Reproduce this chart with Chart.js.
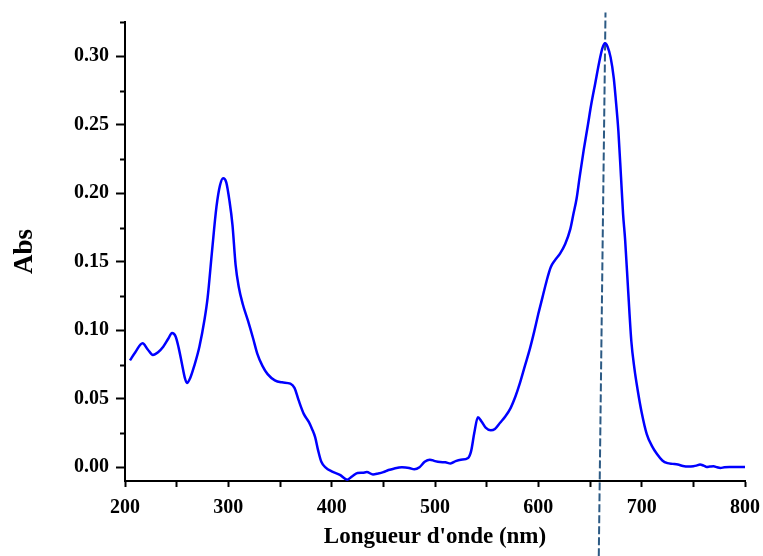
<!DOCTYPE html>
<html>
<head>
<meta charset="utf-8">
<script src="https://cdn.jsdelivr.net/npm/chart.js@4.4.1/dist/chart.umd.min.js"></script>
<style>
  html, body { margin: 0; padding: 0; background: #fff; }
  #wrap { width: 763px; height: 556px; }
</style>
</head>
<body>
<div id="wrap"><canvas id="myChart" width="763" height="556"></canvas></div>
<script>
// Spectrum data
var wavelength = [204.8, 210, 217, 222, 227, 232, 237, 242, 245.5, 249, 252, 255, 258, 260, 263, 267, 272, 277, 280, 284,
  288.5, 292, 295, 298, 301, 304, 307, 310, 314, 319, 324, 328, 333, 338, 345, 352, 360, 364, 368, 373,
  378, 381, 384, 387, 390, 394, 400, 408, 415, 420, 425, 430, 434, 440, 445, 450, 455, 460, 468, 475,
  480, 485, 490, 495, 500, 505, 510, 515, 520, 525, 532, 535, 538, 541.5, 545, 549, 554, 558, 563, 568,
  573, 578, 582, 587, 592, 596, 600, 604, 608, 612, 616, 621, 626, 631, 634, 637, 640, 644, 648, 651,
  655, 659, 662, 664.5, 667, 670, 673, 675, 677.5, 680, 682, 684, 687, 690, 693, 696, 700, 705, 710, 715,
  720, 725, 730, 735, 740, 745, 750, 753, 756.5, 760, 763, 766, 769.5, 773, 776, 780, 785, 790, 795, 800];
var absorbance = [0.078, 0.084, 0.0905, 0.086, 0.082, 0.084, 0.088, 0.094, 0.098, 0.0955, 0.087, 0.076, 0.065, 0.0615, 0.065, 0.074, 0.088, 0.108, 0.124, 0.156,
  0.19, 0.206, 0.211, 0.208, 0.195, 0.177, 0.148, 0.132, 0.119, 0.107, 0.094, 0.083, 0.074, 0.068, 0.0635, 0.062, 0.061, 0.058, 0.049, 0.039,
  0.033, 0.028, 0.022, 0.012, 0.004, 0.0, -0.003, -0.0055, -0.009, -0.0065, -0.0042, -0.004, -0.0035, -0.0052, -0.0045, -0.0035, -0.002, -0.001, 0.0, -0.0005,
  -0.0015, 0.0, 0.004, 0.0056, 0.0045, 0.0038, 0.0036, 0.0028, 0.0045, 0.0055, 0.0068, 0.012, 0.025, 0.0365, 0.0335, 0.029, 0.027, 0.028, 0.0325, 0.037,
  0.043, 0.052, 0.061, 0.074, 0.087, 0.099, 0.112, 0.124, 0.136, 0.146, 0.151, 0.156, 0.163, 0.174, 0.185, 0.196, 0.212, 0.232, 0.25, 0.264,
  0.28, 0.296, 0.306, 0.3095, 0.307, 0.299, 0.284, 0.268, 0.245, 0.212, 0.185, 0.166, 0.128, 0.092, 0.072, 0.057, 0.040, 0.024, 0.0155, 0.0095,
  0.005, 0.003, 0.0025, 0.002, 0.001, 0.0006, 0.0008, 0.0012, 0.002, 0.0012, 0.0003, 0.0005, 0.0007, 0.0, -0.0005, 0.0, 0.0003, 0.0003, 0.0003, 0.0003];

// Dashed marker line at the band maximum (slightly slanted in the picture)
var markerX = [658.5, 665];
var markerY = [-0.065, 0.332];

// Axis settings
var xRange = [200, 800];
var yRange = [-0.01, 0.325];
var xStep = 50, yStep = 0.025;
var xLabelStep = 100, yLabelStep = 0.05;

var serif = "'Liberation Serif', 'Times New Roman', serif";

function isMultiple(v, step) {
  var r = v / step;
  return Math.abs(r - Math.round(r)) < 1e-6;
}

var spectrum = [];
for (var i = 0; i < wavelength.length; i++) {
  spectrum.push({ x: wavelength[i], y: absorbance[i] });
}
var marker = [];
for (var j = 0; j < markerX.length; j++) {
  marker.push({ x: markerX[j], y: markerY[j] });
}

//Draw short minor ticks on the y axis
var minorTicks = {
  id: 'minorTicks',
  afterDraw: function (chart) {
    var ctx = chart.ctx;
    var y = chart.scales.y;
    ctx.save();
    ctx.strokeStyle = '#000';
    ctx.lineWidth = 2;
    y.ticks.forEach(function (t) {
      if (!isMultiple(t.value, yLabelStep)) {
        var py = Math.round(y.getPixelForValue(t.value)) + 0.5;
        ctx.beginPath();
        ctx.moveTo(y.right - 5, py);
        ctx.lineTo(y.right, py);
        ctx.stroke();
      }
    });
    ctx.restore();
  }
};

var ctx = document.getElementById('myChart').getContext('2d');
var myChart = new Chart(ctx, {
  type: 'line',
  data: {
    datasets: [{
      label: 'Spectre',
      data: spectrum,
      borderColor: '#0000ff',
      borderWidth: 2.5,
      pointRadius: 0,
      cubicInterpolationMode: 'monotone',
      fill: false
    },
    {
      label: 'max',
      data: marker,
      borderColor: '#2c5a84',
      borderWidth: 2,
      borderDash: [8, 3],
      pointRadius: 0,
      tension: 0,
      clip: false,
      fill: false
    }]
  },
  options: {
    responsive: false,
    animation: false,
    layout: { padding: { top: 22, right: 18, left: 0, bottom: 0 } },
    plugins: {
      legend: { display: false },
      tooltip: { enabled: false }
    },
    scales: {
      x: {
        type: 'linear',
        min: xRange[0],
        max: xRange[1],
        afterFit: function (scale) {
          scale.height = 75;
          scale.paddingRight = 0;
          scale.paddingLeft = 0;
        },
        border: { color: '#000', width: 2 },
        grid: { drawOnChartArea: false, tickLength: 6, tickWidth: 2, tickColor: '#000' },
        ticks: {
          stepSize: xStep,
          includeBounds: false,
          padding: 9,
          maxRotation: 0,
          autoSkip: false,
          color: '#000',
          font: { family: serif, size: 20, weight: 'bold' },
          callback: function (v) { return isMultiple(v, xLabelStep) ? String(v) : ''; }
        },
        title: {
          display: true,
          text: "Longueur d'onde (nm)",
          color: '#000',
          font: { family: serif, size: 23, weight: 'bold' },
          padding: { top: 0, bottom: 5 }
        }
      },
      y: {
        type: 'linear',
        min: yRange[0],
        max: yRange[1],
        afterFit: function (scale) { scale.width = 125; },
        border: { color: '#000', width: 2 },
        grid: {
          drawOnChartArea: false,
          tickLength: 9,
          tickWidth: 2,
          tickColor: function (c) {
            return (c.tick && isMultiple(c.tick.value, yLabelStep)) ? '#000' : 'rgba(0,0,0,0)';
          }
        },
        ticks: {
          stepSize: yStep,
          includeBounds: false,
          padding: 7,
          autoSkip: false,
          color: '#000',
          font: { family: serif, size: 20, weight: 'bold' },
          callback: function (v) { return isMultiple(v, yLabelStep) ? v.toFixed(2) : ''; }
        },
        title: {
          display: true,
          text: 'Abs',
          color: '#000',
          font: { family: serif, size: 27, weight: 'bold' },
          padding: { top: 9, bottom: 0 }
        }
      }
    }
  },
  plugins: [minorTicks]
});
</script>
</body>
</html>
